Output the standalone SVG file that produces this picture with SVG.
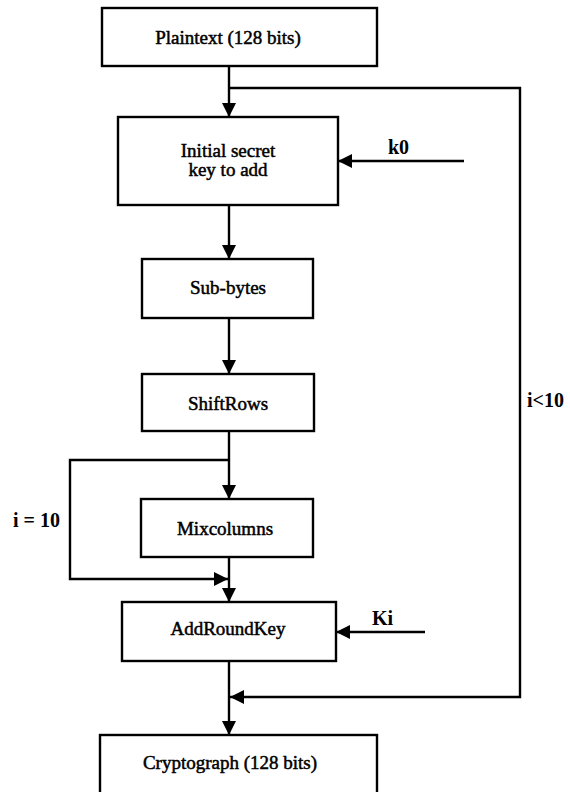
<svg xmlns="http://www.w3.org/2000/svg" width="570" height="792" viewBox="0 0 570 792">
<style>
.box{fill:#fff;stroke:#000;stroke-width:2.4}
.t{font-family:"Liberation Serif","Times New Roman",serif;font-size:19px;fill:#000;stroke:#000;stroke-width:0.5;text-anchor:middle}
.l{font-family:"Liberation Serif","Times New Roman",serif;font-size:20px;font-weight:bold;fill:#000}
.c{fill:none;stroke:#000;stroke-width:2.4}
</style>
<defs>
<marker id="ah" markerUnits="userSpaceOnUse" markerWidth="15" markerHeight="15" refX="14" refY="7" orient="auto">
<path d="M0,0 L14,7 L0,14 z" fill="#000"/>
</marker>
</defs>
<rect width="570" height="792" fill="#fff"/>
<g id="connectors">
<path class="c" d="M229,66 V117" marker-end="url(#ah)"/>
<path class="c" d="M229,88 H520 V697 H230" marker-end="url(#ah)"/>
<path class="c" d="M464,161 H338" marker-end="url(#ah)"/>
<path class="c" d="M229,205 V259" marker-end="url(#ah)"/>
<path class="c" d="M229,318 V374" marker-end="url(#ah)"/>
<path class="c" d="M229,431 V499" marker-end="url(#ah)"/>
<path class="c" d="M229,460 H70 V579 H228" marker-end="url(#ah)"/>
<path class="c" d="M229,557 V602" marker-end="url(#ah)"/>
<path class="c" d="M425,632 H336" marker-end="url(#ah)"/>
<path class="c" d="M229,661 V735" marker-end="url(#ah)"/>
<text class="l" x="388" y="154">k0</text>
<text class="l" x="372" y="625">Ki</text>
<text class="l" x="527" y="407">i&lt;10</text>
<text class="l" x="13" y="527">i = 10</text>
</g>
<g id="plaintext">
<rect class="box" x="102" y="8" width="275" height="58"/>
<text class="t" x="228" y="44">Plaintext (128 bits)</text>
</g>
<g id="initial">
<rect class="box" x="118" y="117" width="220" height="88"/>
<text class="t" x="228" y="157">Initial secret</text>
<text class="t" x="228" y="176">key to add</text>
</g>
<g id="subbytes">
<rect class="box" x="142" y="259" width="171" height="59"/>
<text class="t" x="228" y="294">Sub-bytes</text>
</g>
<g id="shiftrows">
<rect class="box" x="142" y="374" width="172" height="57"/>
<text class="t" x="228" y="410">ShiftRows</text>
</g>
<g id="mixcolumns">
<rect class="box" x="141" y="499" width="172" height="58"/>
<text class="t" x="225" y="535">Mixcolumns</text>
</g>
<g id="addroundkey">
<rect class="box" x="122" y="602" width="214" height="59"/>
<text class="t" x="228" y="635">AddRoundKey</text>
</g>
<g id="cryptograph">
<rect class="box" x="100" y="735" width="277" height="70"/>
<text class="t" x="230" y="769">Cryptograph (128 bits)</text>
</g>
</svg>
